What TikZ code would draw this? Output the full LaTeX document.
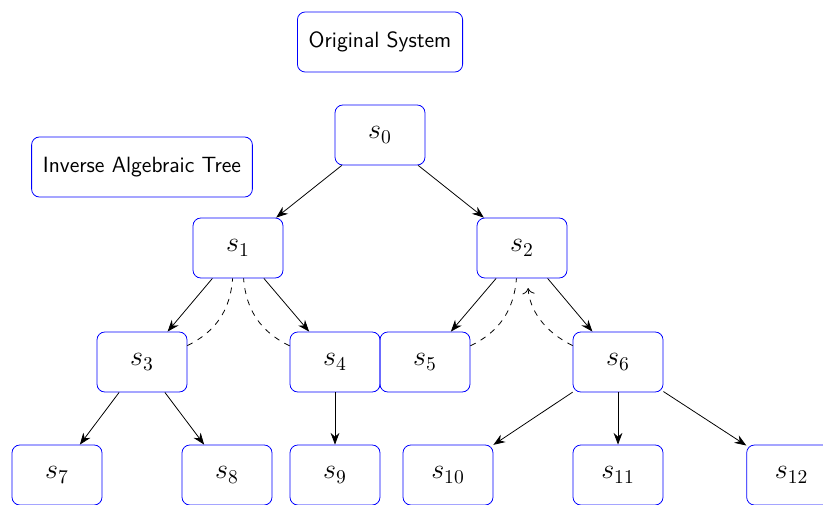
\documentclass[tikz,border=0pt]{standalone}
\usepackage{amsmath,amssymb}
\usepackage{tikz}
\usetikzlibrary{arrows.meta, positioning}

\begin{document}
\begin{tikzpicture}[>={Stealth[scale=1.25]},
    state/.style={draw=blue, rounded corners=4pt, minimum width=1.62cm, minimum height=1.08cm, font=\Large},
    tag/.style={draw=blue, rounded corners=4pt, minimum height=1.08cm, inner xsep=5.8pt,
      font=\sffamily\fontsize{11.3}{13.5}\selectfont}]
  % Frame (the lowest row is cut off at the border)
  \useasboundingbox (0,0) rectangle (14.814,9.072);
  \clip (0,0) rectangle (14.814,9.072);

  % Titles
  \node[tag] (orig) at (6.84,8.316) {Original System};
  \node[tag] (inv) at (2.556,6.066) {Inverse Algebraic Tree};

  % States
  \node[state] (s0) at (6.84,6.642) {$s_0$};
  \node[state] (s1) at (4.284,4.608) {$s_1$};
  \node[state] (s2) at (9.396,4.608) {$s_2$};
  \node[state] (s3) at (2.556,2.556) {$s_3$};
  \node[state] (s4) at (6.03,2.556) {$s_4$};
  \node[state] (s5) at (7.65,2.556) {$s_5$};
  \node[state] (s6) at (11.124,2.556) {$s_6$};
  \node[state] (s7) at (1.026,0.522) {$s_7$};
  \node[state] (s8) at (4.086,0.522) {$s_8$};
  \node[state] (s9) at (6.03,0.522) {$s_9$};
  \node[state] (s10) at (8.064,0.522) {$s_{10}$};
  \node[state] (s11) at (11.124,0.522) {$s_{11}$};
  \node[state] (s12) at (14.25,0.522) {$s_{12}$};

  % Tree edges
  \draw[->] (s0) -- (s1);
  \draw[->] (s0) -- (s2);
  \draw[->] (s1) -- (s3);
  \draw[->] (s1) -- (s4);
  \draw[->] (s2) -- (s5);
  \draw[->] (s2) -- (s6);
  \draw[->] (s3) -- (s7);
  \draw[->] (s3) -- (s8);
  \draw[->] (s4) -- (s9);
  \draw[->] (s6) -- (s10);
  \draw[->] (s6) -- (s11);
  \draw[->] (s6) -- (s12);

  % Inverse links
  \draw[dashed] (s3) to[bend right] (s1);
  \draw[dashed] (s4) to[bend left] (s1);
  \draw[dashed] (s5) to[bend right] (s2);
  \draw[dashed, -{To[scale=1.2]}, shorten >=5pt] (s6) to[bend left] (s2);
\end{tikzpicture}
\end{document}
